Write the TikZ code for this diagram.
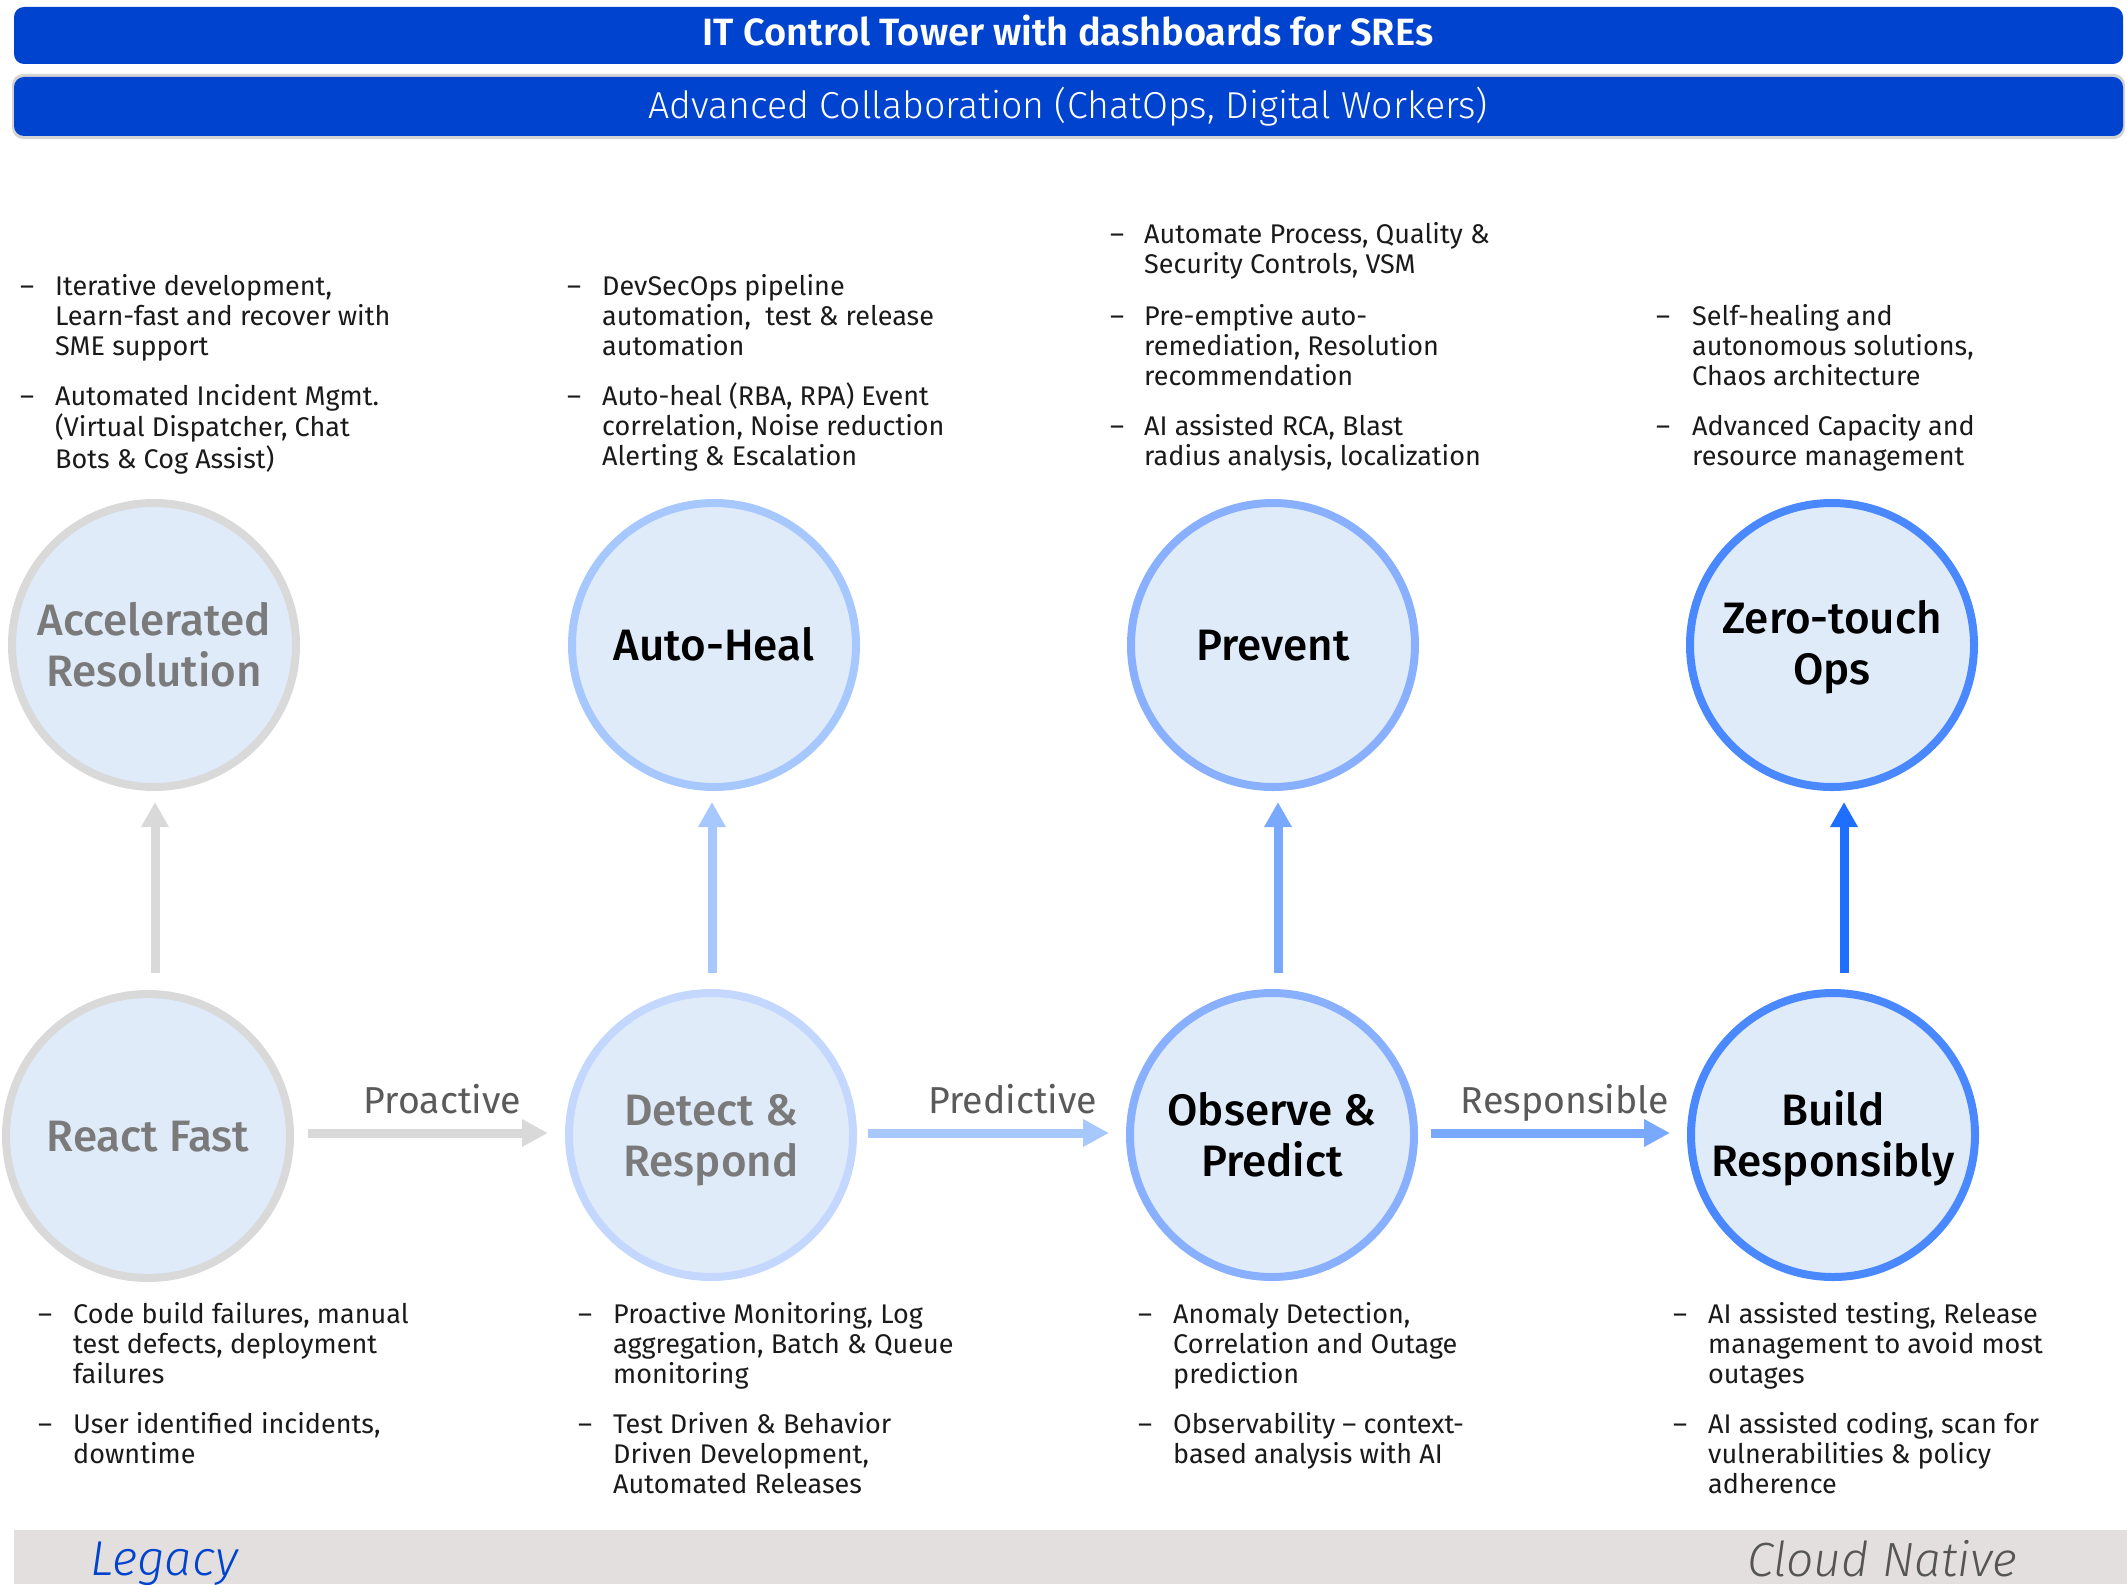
\documentclass[tikz,border=0pt]{standalone}
\usepackage{fontspec}
\setmainfont{Fira Sans}
\newfontfamily\fsemi{Fira Sans SemiBold}
\newfontfamily\fmed{Fira Sans Medium}
\newfontfamily\flight{Fira Sans Light}
\newfontfamily\flightit{Fira Sans Light Italic}
\usetikzlibrary{arrows.meta}
\definecolor{cBlue}{HTML}{0043CE}
\definecolor{cShadow}{HTML}{D4D4D4}
\definecolor{cFill}{HTML}{E0EBFA}
\definecolor{cG}{HTML}{D9D9D9}
\definecolor{cB1}{HTML}{A6C8FF}
\definecolor{cB1l}{HTML}{C3D7FF}
\definecolor{cB2}{HTML}{88B0FF}
\definecolor{cB3}{HTML}{4A88FF}
\definecolor{aB2}{HTML}{78A9FF}
\definecolor{aB3}{HTML}{1F6FFF}
\definecolor{cText}{HTML}{1A1A1A}
\definecolor{cGreyText}{HTML}{7A7A7A}
\definecolor{cLab}{HTML}{5A5A5A}
\definecolor{cBot}{HTML}{E4DFDF}
\definecolor{cNative}{HTML}{555555}
\newcommand\tlines[1]{\begin{tabular}[t]{@{}l@{}}#1\end{tabular}}
\newcommand\clines[1]{\begin{tabular}[t]{@{}c@{}}#1\end{tabular}}
\begin{document}
\begin{tikzpicture}[x=1pt,y=-1pt,
  circ/.style={circle, minimum size=284pt, inner sep=0pt, line width=8pt, fill=cFill},
  ctext/.style={inner sep=0pt, anchor=base, font=\fmed\fontsize{44}{51}\selectfont},
  btxt/.style={inner sep=0pt, anchor=base west, text=cText, font=\fontsize{27}{30}\selectfont},
  varrow/.style={line width=9pt, -{Triangle[width=26pt,length=25pt]}},
  harrow/.style={line width=9pt, -{Triangle[width=26pt,length=26pt]}},
  lab/.style={inner sep=0pt, anchor=base, text=cLab, font=\fontsize{37.5}{40}\selectfont},
  bar/.style={fill=cBlue, rounded corners=10pt}
]
\useasboundingbox (0,0) rectangle (2127,1584);

% top bars
\fill[cShadow, rounded corners=11pt] (12,74) rectangle (2125,139);
\fill[bar] (14,7) rectangle (2123,64);
\fill[bar] (14,77) rectangle (2123,136);
\node[inner sep=0pt, anchor=base, text=white, font=\fsemi\fontsize{38}{40}\selectfont] (bar1t) at (1068,46) {IT Control Tower with dashboards for SREs};
\node[inner sep=0pt, anchor=base, text=white, font=\flight\fontsize{37.5}{40}\selectfont] (bar2t) at (1068,118) {Advanced Collaboration (ChatOps, Digital Workers)};

% circles top
\node[circ, draw=cG] (accel) at (154,645) {};
\node[circ, draw=cB1] (auto) at (714,645) {};
\node[circ, draw=cB2] (prev) at (1273,645) {};
\node[circ, draw=cB3] (zero) at (1832,645) {};
% circles bottom
\node[circ, draw=cG] (react) at (148,1136) {};
\node[circ, draw=cB1l] (detect) at (711,1135) {};
\node[circ, draw=cB2] (obs) at (1272,1135) {};
\node[circ, draw=cB3] (build) at (1833,1135) {};

% circle texts
\node[ctext, text=cGreyText] (accelT) at ([yshift=10pt]accel.center) {\clines{Accelerated\\Resolution}};
\node[ctext, text=black] (autoT) at ([yshift=-15pt]auto.center) {Auto-Heal};
\node[ctext, text=black] (prevT) at ([yshift=-15pt]prev.center) {Prevent};
\node[ctext, text=black] (zeroT) at ([yshift=12pt]zero.center) {\clines{Zero-touch\\Ops}};
\node[ctext, text=cGreyText] (reactT) at ([yshift=-15pt]react.center) {React Fast};
\node[ctext, text=cGreyText] (detectT) at ([yshift=10pt]detect.center) {\clines{Detect \&\\Respond}};
\node[ctext, text=black] (obsT) at ([yshift=10pt]obs.center) {\clines{Observe \&\\Predict}};
\node[ctext, text=black] (buildT) at ([yshift=10pt]build.center) {\clines{Build\\Responsibly}};

% vertical arrows
\draw[varrow, cG] ([xshift=7pt,yshift=17pt]react.north) -- ([xshift=1pt,yshift=-11pt]accel.south);
\draw[varrow, cB1] ([xshift=1pt,yshift=16pt]detect.north) -- ([xshift=-2pt,yshift=-11pt]auto.south);
\draw[varrow, aB2] ([xshift=6pt,yshift=16pt]obs.north) -- ([xshift=5pt,yshift=-11pt]prev.south);
\draw[varrow, aB3] ([xshift=11pt,yshift=16pt]build.north) -- ([xshift=12pt,yshift=-11pt]zero.south);

% horizontal arrows with labels
\draw[harrow, cG] ([xshift=14pt,yshift=3pt]react.east) -- ([xshift=-17pt,yshift=2pt]detect.west)
  node[lab, pos=0.56, yshift=20pt] (labPro) {Proactive};
\draw[harrow, cB1] ([xshift=11pt,yshift=2pt]detect.east) -- ([xshift=-17pt,yshift=2pt]obs.west)
  node[lab, pos=0.6, yshift=20pt] (labPre) {Predictive};
\draw[harrow, aB2] ([xshift=13pt,yshift=2pt]obs.east) -- ([xshift=-17pt,yshift=2pt]build.west)
  node[lab, pos=0.56, yshift=20pt] (labRes) {Responsible};

% top bullets
\node[btxt] (d1a) at (20,295) {–};
\node[btxt] (t1a) at (55,295) {\tlines{Iterative development,\\Learn-fast and recover with\\SME support}};
\node[btxt] (d1b) at (20,405) {–};
\node[btxt] (t1b) at (55,405) {\tlines{Automated Incident Mgmt.\\(Virtual Dispatcher, Chat\\Bots \& Cog Assist)}};

\node[btxt] (d2a) at (567,295) {–};
\node[btxt] (t2a) at (602,295) {\tlines{DevSecOps pipeline\\automation,\ \ test \& release\\automation}};
\node[btxt] (d2b) at (567,405) {–};
\node[btxt] (t2b) at (602,405) {\tlines{Auto-heal (RBA, RPA) Event\\correlation, Noise reduction\\Alerting \& Escalation}};

\node[btxt] (d3a) at (1110,243) {–};
\node[btxt] (t3a) at (1144,243) {\tlines{Automate Process, Quality \&\\Security Controls, VSM}};
\node[btxt] (d3b) at (1110,325) {–};
\node[btxt] (t3b) at (1144,325) {\tlines{Pre-emptive auto-\\remediation, Resolution\\recommendation}};
\node[btxt] (d3c) at (1110,435) {–};
\node[btxt] (t3c) at (1144,435) {\tlines{AI assisted RCA, Blast\\radius analysis, localization}};

\node[btxt] (d4a) at (1656,325) {–};
\node[btxt] (t4a) at (1692,325) {\tlines{Self-healing and\\autonomous solutions,\\Chaos architecture}};
\node[btxt] (d4b) at (1656,435) {–};
\node[btxt] (t4b) at (1692,435) {\tlines{Advanced Capacity and\\resource management}};

% bottom bullets
\node[btxt] (e1a) at (38,1323) {–};
\node[btxt] (u1a) at (73,1323) {\tlines{Code build failures, manual\\test defects, deployment\\failures}};
\node[btxt] (e1b) at (38,1433) {–};
\node[btxt] (u1b) at (73,1433) {\tlines{User identified incidents,\\downtime}};

\node[btxt] (e2a) at (578,1323) {–};
\node[btxt] (u2a) at (613,1323) {\tlines{Proactive Monitoring, Log\\aggregation, Batch \& Queue\\monitoring}};
\node[btxt] (e2b) at (578,1433) {–};
\node[btxt] (u2b) at (613,1433) {\tlines{Test Driven \& Behavior\\Driven Development,\\Automated Releases}};

\node[btxt] (e3a) at (1138,1323) {–};
\node[btxt] (u3a) at (1173,1323) {\tlines{Anomaly Detection,\\Correlation and Outage\\prediction}};
\node[btxt] (e3b) at (1138,1433) {–};
\node[btxt] (u3b) at (1173,1433) {\tlines{Observability – context-\\based analysis with AI}};

\node[btxt] (e4a) at (1673,1323) {–};
\node[btxt] (u4a) at (1708,1323) {\tlines{AI assisted testing, Release\\management to avoid most\\outages}};
\node[btxt] (e4b) at (1673,1433) {–};
\node[btxt] (u4b) at (1708,1433) {\tlines{AI assisted coding, scan for\\vulnerabilities \& policy\\adherence}};

% bottom band
\fill[cBot] (14,1530) rectangle (2127,1584);
\node[inner sep=0pt, anchor=base west, text=cBlue, font=\flightit\fontsize{49}{54}\selectfont] (legacy) at (90,1575) {Legacy};
\node[inner sep=0pt, anchor=base west, text=cNative, font=\flightit\fontsize{48}{54}\selectfont] (native) at (1747,1576) {Cloud Native};
\end{tikzpicture}
\end{document}
